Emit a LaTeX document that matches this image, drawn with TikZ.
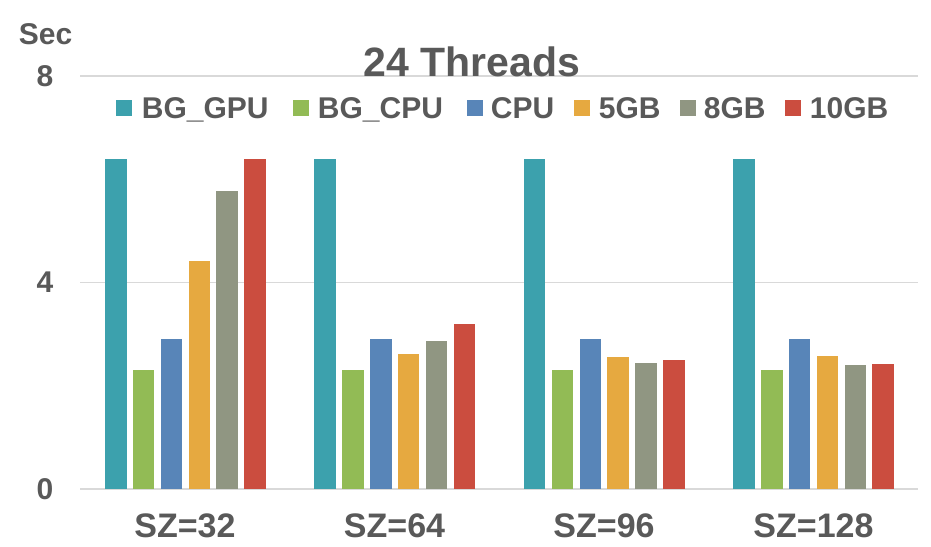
\documentclass[tikz,border=0pt]{standalone}
\usepackage{fontspec}
\setmainfont{Liberation Sans}
\definecolor{txtgray}{RGB}{89,89,89}
\definecolor{gridgray}{RGB}{217,217,217}
\definecolor{bar0}{RGB}{60,161,173}
\definecolor{bar1}{RGB}{146,187,85}
\definecolor{bar2}{RGB}{88,133,184}
\definecolor{bar3}{RGB}{230,169,64}
\definecolor{bar4}{RGB}{144,150,130}
\definecolor{bar5}{RGB}{203,77,63}
\tikzset{
  lbl/.style={text=txtgray, inner sep=0.75pt, font=\bfseries\fontsize{30}{36}\selectfont},
  catlbl/.style={text=txtgray, inner sep=0.75pt, font=\bfseries\fontsize{34}{40}\selectfont},
  gridline/.style={draw=gridgray, line width=1.5pt},
}
\begin{document}
\begin{tikzpicture}[x=1pt,y=1pt,yscale=-1,xscale=1]
\useasboundingbox[fill=white] (0,0) rectangle (931,546);

%Grid Lines
\draw [gridline] (80,76) -- (918,76) ;
\draw [gridline] (80,282.5) -- (918,282.5) ;
\draw [gridline] (80,489) -- (918,489) ;

%Bars: one group for each size
\foreach \g/\vals in {0/{6.39,2.31,2.91,4.42,5.78,6.39},
                      1/{6.39,2.31,2.91,2.61,2.87,3.20},
                      2/{6.39,2.31,2.91,2.55,2.45,2.49},
                      3/{6.39,2.31,2.91,2.58,2.40,2.42}} {
  \foreach \v [count=\i from 0] in \vals {
    \fill [bar\i] ({105+209.4*\g+27.85*\i},489) rectangle ++(21.5,{-\v*51.625}) ;
  }
}

% Text Node
\node (sec) at (45.5,34) [lbl] {Sec};
% Text Node
\node (yeight) at (45,76) [lbl] {8};
% Text Node
\node (yfour) at (45,282.5) [lbl] {4};
% Text Node
\node (yzero) at (45,489) [lbl] {0};
% Text Node
\node (title) at (472,76) [anchor=base, text=txtgray, inner sep=0.75pt, font=\bfseries\fontsize{41}{48}\selectfont] {24 Threads};

%Legend
\fill [bar0] (116,100) rectangle (132,116) ;
\node (lgpu) at (141,118) [anchor=base west, lbl] {BG\_GPU};
\fill [bar1] (293,100) rectangle (309,116) ;
\node (lbgcpu) at (317,118) [anchor=base west, lbl] {BG\_CPU};
\fill [bar2] (467,100) rectangle (483,116) ;
\node (lcpu) at (490,118) [anchor=base west, lbl] {CPU};
\fill [bar3] (574,100) rectangle (590,116) ;
\node (lfive) at (598,118) [anchor=base west, lbl] {5GB};
\fill [bar4] (680,100) rectangle (696,116) ;
\node (leight) at (703,118) [anchor=base west, lbl] {8GB};
\fill [bar5] (785,100) rectangle (801,116) ;
\node (lten) at (809,118) [anchor=base west, lbl] {10GB};

% Text Node
\node (sza) at (185,526) [catlbl] {SZ=32};
% Text Node
\node (szb) at (394.5,526) [catlbl] {SZ=64};
% Text Node
\node (szc) at (604,526) [catlbl] {SZ=96};
% Text Node
\node (szd) at (813.5,526) [catlbl] {SZ=128};

\end{tikzpicture}
\end{document}
